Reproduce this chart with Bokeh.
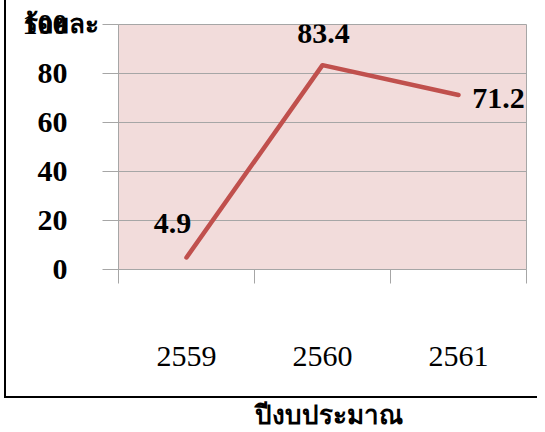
import numpy as np
from bokeh.plotting import figure
from bokeh.models import Range1d, FixedTicker, Label, LabelSet, ColumnDataSource, Div
from bokeh.layouts import column
from bokeh.embed import file_html
from bokeh.resources import INLINE

# ---- data ----
years = ["2559", "2560", "2561"]
percent = [4.9, 83.4, 71.2]
y_ticks = [0, 20, 40, 60, 80, 100]
y_title = "ร้อยละ"
x_title = "ปีงบประมาณ"

FONT = "Liberation Serif"
GRID = "#A6A6A6"

xpos = list(np.arange(len(years)) + 0.5)
bounds = list(range(len(years) + 1))

p = figure(width=533, height=398, output_backend="svg", toolbar_location=None,
           x_range=Range1d(0, len(years)), y_range=Range1d(0, 100),
           min_border_left=112, min_border_right=13, min_border_top=24,
           min_border_bottom=129,
           styles={"border-left": "2px solid black",
                   "border-bottom": "2px solid black",
                   "margin-left": "4px"})

p.background_fill_color = "#F2DCDB"
p.border_fill_color = "white"
p.outline_line_color = GRID
p.outline_line_width = 1

# x axis
p.xaxis.ticker = FixedTicker(ticks=xpos, minor_ticks=bounds)
p.xaxis.major_label_overrides = {float(x): y for x, y in zip(xpos, years)}
p.xaxis.major_tick_out = 0
p.xaxis.major_tick_in = 0
p.xaxis.minor_tick_out = 14
p.xaxis.minor_tick_in = 0
p.xaxis.minor_tick_line_color = GRID
p.xaxis.axis_line_color = GRID
p.xaxis.major_label_standoff = 63
p.xaxis.major_label_text_font = FONT
p.xaxis.major_label_text_font_size = "30px"
p.xaxis.major_label_text_color = "black"
p.xgrid.visible = False

# y axis
p.yaxis.ticker = FixedTicker(ticks=y_ticks, minor_ticks=[])
p.yaxis.major_tick_out = 16
p.yaxis.major_tick_in = 0
p.yaxis.major_tick_line_color = GRID
p.yaxis.axis_line_color = GRID
p.yaxis.major_label_standoff = 35
p.yaxis.major_label_text_font = FONT
p.yaxis.major_label_text_font_style = "bold"
p.yaxis.major_label_text_font_size = "30px"
p.yaxis.major_label_text_color = "black"
p.ygrid.ticker = FixedTicker(ticks=y_ticks)
p.ygrid.grid_line_color = GRID

# line
p.line(xpos, percent, line_color="#C0504D", line_width=4.5, line_cap="round",
       line_join="round")

# data labels
src = ColumnDataSource(dict(
    x=xpos, y=percent, text=[f"{v:.1f}" for v in percent],
    dx=[-14, 1, 40], dy=[34, 32, -3]))
p.add_layout(LabelSet(x="x", y="y", text="text", x_offset="dx", y_offset="dy",
                      source=src, text_font=FONT, text_font_style="bold",
                      text_font_size="30px", text_align="center",
                      text_baseline="middle", text_color="black"))

# y title at top-left (placed in a side panel so it is not clipped to the frame)
p.add_layout(Label(x=0, y=100, x_offset=-95, text=y_title,
                   text_font=FONT, text_font_style="bold", text_font_size="26px",
                   text_baseline="middle", text_align="left", text_color="black"),
             "below")

title = Div(text=x_title, width=533, height=30,
            styles={"font-family": FONT, "font-size": "26px",
                    "font-weight": "bold", "padding-left": "250px",
                    "line-height": "26px", "color": "black",
                    "white-space": "nowrap"})

layout = column(p, title)
open("out.html", "w").write(file_html(layout, INLINE))
